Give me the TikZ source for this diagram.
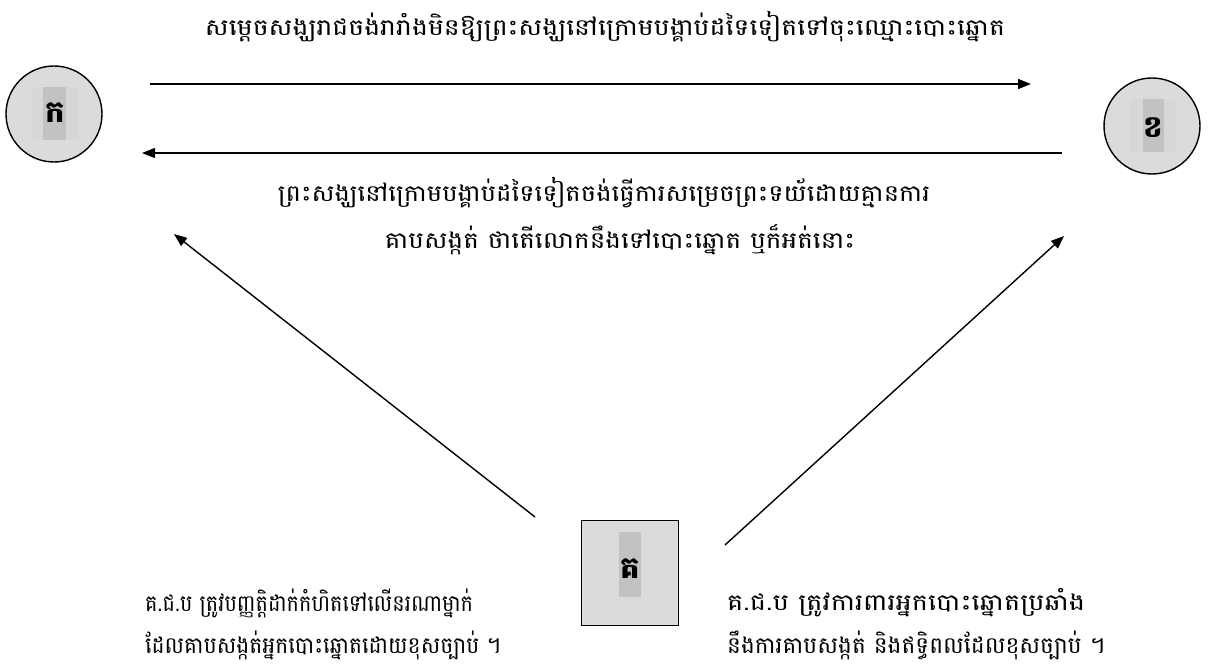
\documentclass[tikz,border=0pt]{standalone}
\usepackage{fontspec}
\usepackage{graphicx}
\usetikzlibrary{arrows.meta}
\newfontfamily\khmer[Script=Khmer]{Battambang}
\newcommand{\fitline}[2]{\resizebox{#1pt}{\height}{#2}}
\begin{document}
\begin{tikzpicture}[x=1pt,y=-1pt,
  conn/.style={line width=1.4pt,-{Triangle[length=13pt,width=10pt]}},
  txt/.style={font=\khmer\fontsize{23}{27}\selectfont,inner sep=0pt},
  lbl/.style={font=\khmer\fontsize{30}{32}\selectfont\bfseries,inner sep=0pt},
  ball/.style={circle,draw,line width=1.4pt,fill=gray!28,minimum size=96pt,inner sep=0pt},
  sqbox/.style={rectangle,draw,line width=1.6pt,fill=gray!28,minimum width=97pt,minimum height=105pt,inner sep=0pt}]
\useasboundingbox[fill=white] (0,0) rectangle (1208,671);
% circle A
\node[ball] (a) at (54,114) {};
\fill[gray!31] (32,87) rectangle (78,140);
\fill[gray!48] (43,87) rectangle (66,140);
\node[lbl] (la) at (55,113) {ក};
% circle B
\node[ball] (b) at (1152,126) {};
\fill[gray!31] (1130,99) rectangle (1177,152);
\fill[gray!48] (1143,99) rectangle (1164,152);
\node[lbl] (lb) at (1153,128) {ខ};
% box C
\node[sqbox] (c) at (630,573) {};
\fill[gray!48] (619,532) rectangle (641,597);
\node[lbl] (lc) at (630,569) {គ};
% arrow end points
\coordinate (t1) at (150,84);
\coordinate (t2) at (1031,84);
\coordinate (m1) at (1062,153);
\coordinate (m2) at (142,153);
\coordinate (d1) at (535,517);
\coordinate (d2) at (174,234);
\coordinate (e1) at (725,545);
\coordinate (e2) at (1064,236);
\draw[conn] (t1) -- (t2);
\draw[conn] (m1) -- (m2);
\draw[conn] (d1) -- (d2);
\draw[conn] (e1) -- (e2);
% texts
\node[txt] (top) at (605,27) {\fitline{800}{សម្តេចសង្ឃរាជចង់រារាំងមិនឱ្យព្រះសង្ឃនៅក្រោមបង្គាប់ដទៃទៀតទៅចុះឈ្មោះបោះឆ្នោត}};
\node[txt] (mid1) at (604,193) {\fitline{652}{ព្រះសង្ឃនៅក្រោមបង្គាប់ដទៃទៀតចង់ធ្វើការសម្រេចព្រះទយ័ដោយគ្មានការ}};
\node[txt] (mid2) at (620,240) {\fitline{470}{គាបសង្កត់ ថាតើលោកនឹងទៅបោះឆ្នោត ឬក៏អត់នោះ}};
\node[txt,anchor=west] (bl1) at (145,603) {\fitline{328}{គ.ជ.ប ត្រូវបញ្ញត្តិដាក់កំហិតទៅលើនរណាម្នាក់}};
\node[txt,anchor=west] (bl2) at (145,645) {\fitline{356}{ដែលគាបសង្កត់អ្នកបោះឆ្នោតដោយខុសច្បាប់ ។}};
\node[txt,anchor=west] (br1) at (727,603) {\fitline{358}{គ.ជ.ប ត្រូវការពារអ្នកបោះឆ្នោតប្រឆាំង}};
\node[txt,anchor=west] (br2) at (727,645) {\fitline{378}{នឹងការគាបសង្កត់ និងឥទ្ធិពលដែលខុសច្បាប់ ។}};
\end{tikzpicture}
\end{document}
